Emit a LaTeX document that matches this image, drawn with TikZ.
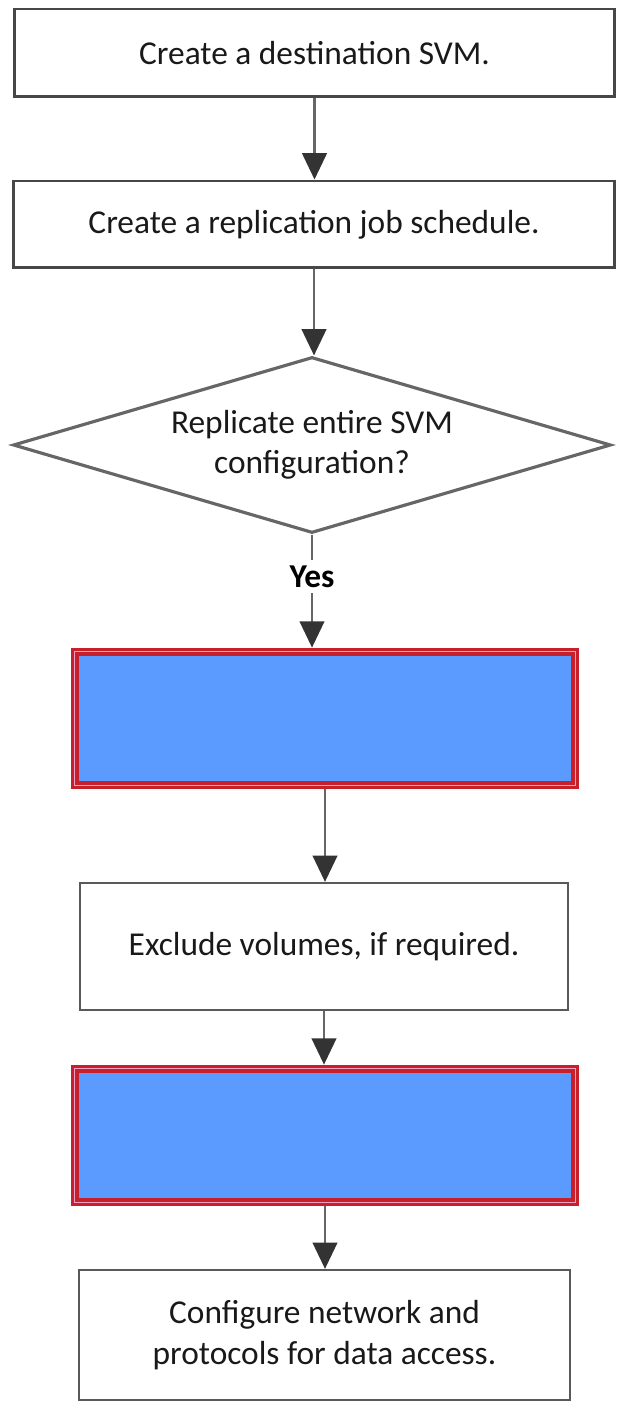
\documentclass[tikz,border=0pt]{standalone}
\usepackage{fontspec}
\setmainfont{Carlito}
\usetikzlibrary{arrows.meta, shapes.geometric}

\definecolor{answerblue}{RGB}{91,154,255}
\definecolor{answerred}{RGB}{200,32,42}
\definecolor{innerpink}{RGB}{236,160,200}

\begin{document}
\begin{tikzpicture}[
    x=0.02cm, y=-0.02cm,
    >={Triangle[length=15pt, width=14pt, color=black!80]},
    step style/.style={draw=black!72, line width=1.7pt, fill=white, text=black!90, font=\fontsize{19}{23}\selectfont, align=center, inner sep=0pt},
    lower step style/.style={step style, draw=black!65, line width=1.3pt},
    blank style/.style={draw=answerred, line width=5pt, fill=answerblue, inner sep=0pt, minimum width=10cm, minimum height=2.66cm},
    decision style/.style={diamond, draw=black!60, line width=1.8pt, fill=white, aspect=3.4, inner sep=0pt, minimum width=11.96cm, minimum height=3.52cm, text=black!90, font=\fontsize{19}{23}\selectfont, align=center},
    flow style/.style={line width=1.4pt, black!60, ->},
    yes style/.style={fill=white, inner sep=3pt, font=\bfseries\fontsize{19}{22}\selectfont, text=black}
]

\useasboundingbox (0,0) rectangle (636,1405);

% Draw the steps
\node[step style, minimum width=12.02cm, minimum height=1.76cm] (create svm) at (314.5,53) {Create a destination SVM.};
\node[step style, minimum width=12.04cm, minimum height=1.74cm] (create schedule) at (314,224.5) {Create a replication job schedule.};
\node[decision style] (replicate) at (312,445) {Replicate entire SVM\\configuration?};
\node[blank style] (blank one) at (325,718.5) {};
\node[lower step style, minimum width=9.76cm, minimum height=2.54cm] (exclude) at (324,946.5) {Exclude volumes, if required.};
\node[blank style] (blank two) at (325,1135.5) {};
\node[lower step style, minimum width=9.82cm, minimum height=2.6cm] (network) at (324.5,1335) {Configure network and\\protocols for data access.};

% Inner edge of the answer boxes
\foreach \b in {blank one, blank two} {
    \draw[innerpink, line width=0.7pt] ([shift={(4.2,4.2)}]\b.north west) rectangle ([shift={(-4.2,-4.2)}]\b.south east);
}

% Draw the arrows
\draw[flow style] (create svm.south) -- (create svm.south |- create schedule.north);
\draw[flow style] (create schedule.south) -- (create schedule.south |- replicate.north);
\draw[flow style] (replicate.south) -- (replicate.south |- blank one.north) node[yes style, pos=0.37] (yes label) {Yes};
\draw[flow style] (blank one.south) -- (blank one.south |- exclude.north);
\draw[flow style] (exclude.south) -- (exclude.south |- blank two.north);
\draw[flow style] (blank two.south) -- (blank two.south |- network.north);
\end{tikzpicture}
\end{document}
